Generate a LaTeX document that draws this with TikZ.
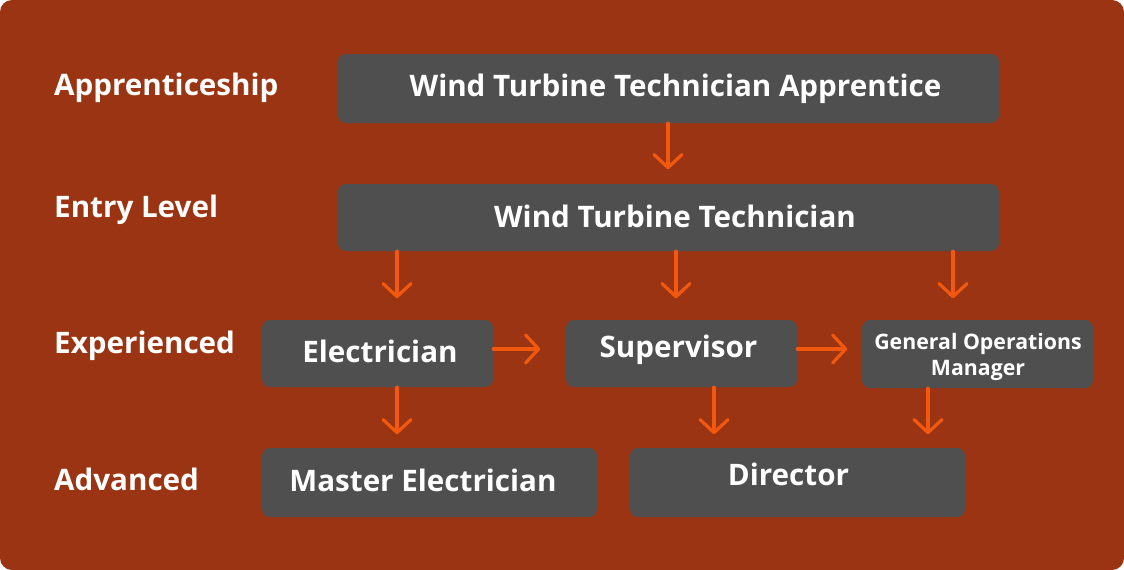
\documentclass[tikz,border=0pt]{standalone}
\usepackage{fontspec}
\setmainfont{Open Sans}
\usetikzlibrary{arrows.meta}
\definecolor{bg}{HTML}{9A3412}
\definecolor{boxc}{HTML}{4F4F4F}
\definecolor{arr}{HTML}{F2590F}
\begin{document}
\begin{tikzpicture}[x=1pt,y=-1pt,
  stagebox/.style={fill=boxc, rounded corners=8pt, inner sep=0pt},
  boxtext/.style={text=white, inner sep=0pt, align=center,
    font=\bfseries\fontsize{29.6}{32}\selectfont},
  lab/.style={text=white, anchor=west, inner sep=0pt, font=\bfseries\fontsize{29.6}{32}\selectfont},
  conn/.style={draw=arr, line width=3.2pt, line cap=round,
    -{Straight Barb[length=13pt,width=28pt,line width=3.2pt,round]}}]
\useasboundingbox (0,0) rectangle (1124,570);
\fill[white] (0,0) rectangle (1124,570);
\fill[bg, rounded corners=12pt] (0,0) rectangle (1124,570);

\node[lab] (l1) at (54,88) {Apprenticeship};
\node[lab] (l2) at (54,210) {Entry Level};
\node[lab] (l3) at (54,346) {Experienced};
\node[lab] (l4) at (54,479) {Advanced};

\node[stagebox, minimum width=661pt, minimum height=69pt] (app) at (668.5,88.5) {};
\node[stagebox, minimum width=661pt, minimum height=67pt] (tech) at (668.5,217.5) {};
\node[stagebox, minimum width=231pt, minimum height=67pt] (ele) at (377.5,353.5) {};
\node[stagebox, minimum width=231pt, minimum height=67pt] (sup) at (681.5,353.5) {};
\node[stagebox, minimum width=231pt, minimum height=68pt] (gom) at (977.5,354) {};
\node[stagebox, minimum width=335pt, minimum height=69pt] (mel) at (429.5,482.5) {};
\node[stagebox, minimum width=335pt, minimum height=69pt] (dir) at (797.5,482.5) {};

\node[boxtext] (appt) at (675.5,89) {Wind Turbine Technician Apprentice};
\node[boxtext] (techt) at (675,216) {Wind Turbine Technician};
\node[boxtext] (elet) at (380,351) {Electrician};
\node[boxtext] (supt) at (678.5,350) {Supervisor};
\node[boxtext, font=\bfseries\fontsize{21.3}{26}\selectfont] (gomt) at (978,357) {General Operations\\Manager};
\node[boxtext] (melt) at (423,480) {Master Electrician};
\node[boxtext] (dirt) at (788.5,474) {Director};

\draw[conn] (app.south -| 668,0) -- ++(0,46);
\draw[conn] (tech.south -| 397,0) -- ++(0,47);
\draw[conn] (tech.south -| 676,0) -- ++(0,47);
\draw[conn] (tech.south -| 953,0) -- ++(0,47);
\draw[conn] (ele.east |- 0,349) -- ++(47,0);
\draw[conn] (sup.east |- 0,349) -- ++(50,0);
\draw[conn] (ele.south -| 397,0) -- ++(0,47);
\draw[conn] (sup.south -| 714,0) -- ++(0,47);
\draw[conn] (gom.south -| 928,0) -- ++(0,46);
\end{tikzpicture}
\end{document}
